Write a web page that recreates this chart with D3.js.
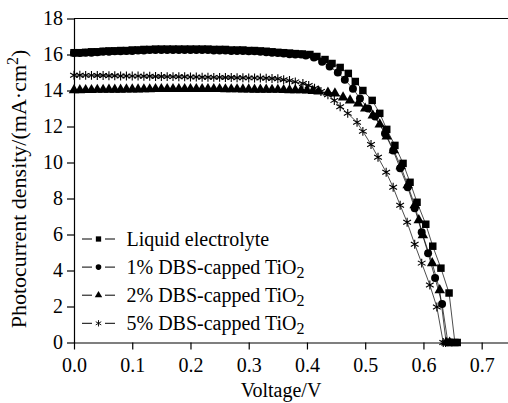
<!DOCTYPE html>
<html>
<head>
<meta charset="utf-8">
<script src="https://cdn.jsdelivr.net/npm/d3@7"></script>
<style>
  body { margin: 0; background: #fff; }
  svg { display: block; font-family: "Liberation Serif", "Times New Roman", serif; }
</style>
</head>
<body>
<svg id="chart" width="508" height="403"></svg>
<script>
// J-V data (voltage in V, current density in mA/cm2)
const liquidV = [0.00,0.01,0.02,0.03,0.04,0.05,0.06,0.07,0.08,0.09,0.10,0.11,0.12,0.13,0.14,0.15,0.16,0.17,0.18,0.19,
  0.20,0.21,0.22,0.23,0.24,0.25,0.26,0.27,0.28,0.29,0.30,0.31,0.32,0.33,0.34,0.35,0.36,0.37,0.38,
  0.392,0.405,0.417,0.431,0.443,0.457,0.471,0.483,0.496,0.512,0.525,0.537,0.551,0.565,0.577,0.589,0.604,0.616,0.630,0.644,0.654,0.658];
const liquidJ = [16.10,16.10,16.12,16.15,16.15,16.18,16.20,16.20,16.22,16.22,16.25,16.25,16.28,16.28,16.30,16.30,16.30,16.30,16.30,16.30,
  16.30,16.30,16.30,16.30,16.28,16.28,16.28,16.25,16.25,16.25,16.22,16.22,16.20,16.18,16.15,16.12,16.10,16.08,16.05,
  16.03,16.00,15.89,15.72,15.50,15.28,14.95,14.50,14.00,13.45,12.73,11.84,10.95,9.95,8.90,7.79,6.57,5.35,4.13,2.75,0,0];

const dbs1V = [0.00,0.01,0.02,0.03,0.04,0.05,0.06,0.07,0.08,0.09,0.10,0.11,0.12,0.13,0.14,0.15,0.16,0.17,0.18,0.19,
  0.20,0.21,0.22,0.23,0.24,0.25,0.26,0.27,0.28,0.29,0.30,0.31,0.32,0.33,0.34,0.35,0.36,0.37,0.38,
  0.39,0.398,0.412,0.426,0.439,0.453,0.465,0.479,0.491,0.505,0.517,0.534,0.548,0.560,0.573,0.585,0.597,0.608,0.620,0.632,0.642,0.648];
const dbs1J = [16.08,16.08,16.10,16.10,16.12,16.15,16.15,16.18,16.18,16.20,16.20,16.22,16.22,16.25,16.25,16.25,16.25,16.25,16.25,16.25,
  16.25,16.25,16.25,16.25,16.22,16.22,16.22,16.20,16.20,16.20,16.18,16.18,16.15,16.12,16.10,16.08,16.05,16.02,16.00,
  16.00,15.95,15.83,15.60,15.33,15.00,14.60,14.10,13.56,13.00,12.56,11.61,10.67,9.68,8.62,7.46,6.13,4.96,3.58,2.14,0,0];

const dbs2V = [0.00,0.01,0.02,0.03,0.04,0.05,0.06,0.07,0.08,0.09,0.10,0.11,0.12,0.13,0.14,0.15,0.16,0.17,0.18,0.19,
  0.20,0.21,0.22,0.23,0.24,0.25,0.26,0.27,0.28,0.29,0.30,0.31,0.32,0.33,0.34,0.35,0.36,0.37,0.38,0.39,0.40,0.41,0.42,
  0.436,0.448,0.462,0.474,0.488,0.500,0.513,0.525,0.537,0.549,0.561,0.573,0.585,0.592,0.599,0.615,0.628,0.639,0.645];
const dbs2J = [14.02,14.02,14.03,14.03,14.04,14.04,14.05,14.05,14.05,14.06,14.06,14.06,14.07,14.07,14.08,14.08,14.08,14.08,14.08,14.08,
  14.08,14.08,14.08,14.08,14.08,14.08,14.07,14.07,14.07,14.06,14.06,14.05,14.05,14.05,14.04,14.04,14.03,14.02,14.02,14.01,14.00,13.98,13.95,
  13.89,13.84,13.62,13.45,13.28,13.00,12.62,12.12,11.45,10.68,9.79,8.74,7.63,6.80,5.96,4.41,2.91,0,0];

const dbs5V = [0.00,0.01,0.02,0.03,0.04,0.05,0.06,0.07,0.08,0.09,0.10,0.11,0.12,0.13,0.14,0.15,0.16,0.17,0.18,0.19,
  0.20,0.21,0.22,0.23,0.24,0.25,0.26,0.27,0.28,0.29,0.30,0.31,0.32,0.33,0.34,0.35,
  0.36,0.37,0.38,0.393,0.403,0.413,0.424,0.436,0.447,0.457,0.470,0.486,0.496,0.510,0.522,0.536,0.548,0.560,0.572,0.585,0.597,0.611,0.623,0.634,0.638];
const dbs5J = [14.85,14.85,14.84,14.84,14.83,14.83,14.82,14.82,14.81,14.81,14.80,14.80,14.79,14.79,14.78,14.78,14.77,14.77,14.76,14.76,
  14.75,14.75,14.74,14.74,14.73,14.73,14.72,14.72,14.71,14.71,14.70,14.70,14.69,14.68,14.67,14.65,
  14.60,14.55,14.48,14.39,14.28,14.12,13.95,13.76,13.45,13.10,12.73,12.23,11.73,11.00,10.29,9.46,8.62,7.63,6.68,5.46,4.41,3.19,1.97,0,0];

const seriesNames = ["Liquid electrolyte", "1% DBS-capped TiO", "2% DBS-capped TiO", "5% DBS-capped TiO"];
const xTicks = [0, 0.1, 0.2, 0.3, 0.4, 0.5, 0.6, 0.7];
const yTicks = [0, 2, 4, 6, 8, 10, 12, 14, 16, 18];

const series = [
  { name: seriesNames[0], sub: "", V: liquidV, J: liquidJ, symbol: d3.symbolSquare, size: 56 },
  { name: seriesNames[1], sub: "2", V: dbs1V, J: dbs1J, symbol: d3.symbolCircle, size: 50 },
  { name: seriesNames[2], sub: "2", V: dbs2V, J: dbs2J, symbol: d3.symbolTriangle, size: 48 },
  { name: seriesNames[3], sub: "2", V: dbs5V, J: dbs5J, symbol: d3.symbolAsterisk, size: 56 }
];

const svg = d3.select("#chart");
const margin = { left: 74, top: 18.5, bottom: 342.5 };

const x = d3.scaleLinear().domain([0, 0.75]).range([margin.left, margin.left + 0.75 * 582.4]);
const y = d3.scaleLinear().domain([0, 18]).range([margin.bottom, margin.top]);

// frame top line (plot box runs off the right edge)
svg.append("line")
  .attr("x1", x(0)).attr("x2", x(0.75))
  .attr("y1", y(18)).attr("y2", y(18))
  .attr("stroke", "#000").attr("stroke-width", 1.2);

const xAxis = svg.append("g")
  .attr("transform", `translate(0,${y(0)})`)
  .call(d3.axisBottom(x).tickValues(xTicks).tickFormat(d3.format(".1f")).tickSize(7).tickSizeOuter(0));
const yAxis = svg.append("g")
  .attr("transform", `translate(${x(0)},0)`)
  .call(d3.axisLeft(y).tickValues(yTicks).tickFormat(d3.format("d")).tickSize(7).tickSizeOuter(0));

[xAxis, yAxis].forEach(g => {
  g.selectAll("path, line").attr("stroke", "#000").attr("stroke-width", 1.2);
  g.selectAll("text").attr("fill", "#000").style("font-size", "20px").style("font-family", "Liberation Serif, serif");
});
xAxis.selectAll("text").attr("dy", "0.95em");
yAxis.selectAll("text").attr("x", -11);

// curves
const line = d3.line().x(d => x(d[0])).y(d => y(d[1]));
series.forEach(s => {
  const pts = s.V.map((v, i) => [v, s.J[i]]);
  svg.append("path")
    .datum(pts)
    .attr("fill", "none")
    .attr("stroke", "#000")
    .attr("stroke-width", 0.7)
    .attr("d", line);
  const isStroke = s.symbol === d3.symbolAsterisk;
  svg.append("g").selectAll("path")
    .data(pts)
    .join("path")
    .attr("transform", d => `translate(${x(d[0])},${y(d[1])})`)
    .attr("d", d3.symbol(s.symbol, s.size))
    .attr("fill", isStroke ? "none" : "#000")
    .attr("stroke", isStroke ? "#000" : "none")
    .attr("stroke-width", 1.1);
});

// legend
const legend = svg.append("g").attr("transform", "translate(82,239)");
series.forEach((s, i) => {
  const row = legend.append("g").attr("transform", `translate(0,${i * 28.1})`);
  row.append("line").attr("x1", 0).attr("x2", 10).attr("stroke", "#000").attr("stroke-width", 1);
  row.append("line").attr("x1", 23).attr("x2", 33).attr("stroke", "#000").attr("stroke-width", 1);
  const isStroke = s.symbol === d3.symbolAsterisk;
  row.append("path")
    .attr("transform", "translate(16.5,0)")
    .attr("d", d3.symbol(s.symbol, s.size * 0.5))
    .attr("fill", isStroke ? "none" : "#000")
    .attr("stroke", isStroke ? "#000" : "none")
    .attr("stroke-width", 0.9);
  const t = row.append("text")
    .attr("x", 44.5).attr("y", 7)
    .style("font-size", "20px")
    .text(s.name);
  if (s.sub) {
    t.append("tspan").attr("dy", 4).style("font-size", "16px").text(s.sub);
  }
});

// axis titles
svg.append("text")
  .attr("x", 281).attr("y", 397)
  .attr("text-anchor", "middle")
  .style("font-size", "20px")
  .text("Voltage/V");

const yTitle = svg.append("text")
  .attr("transform", "translate(26,189) rotate(-90)")
  .attr("text-anchor", "middle")
  .style("font-size", "22px")
  .text("Photocurrent density/(mA·cm");
yTitle.append("tspan").attr("dy", -8).style("font-size", "16px").text("2");
yTitle.append("tspan").attr("dy", 8).text(")");
</script>
</body>
</html>
